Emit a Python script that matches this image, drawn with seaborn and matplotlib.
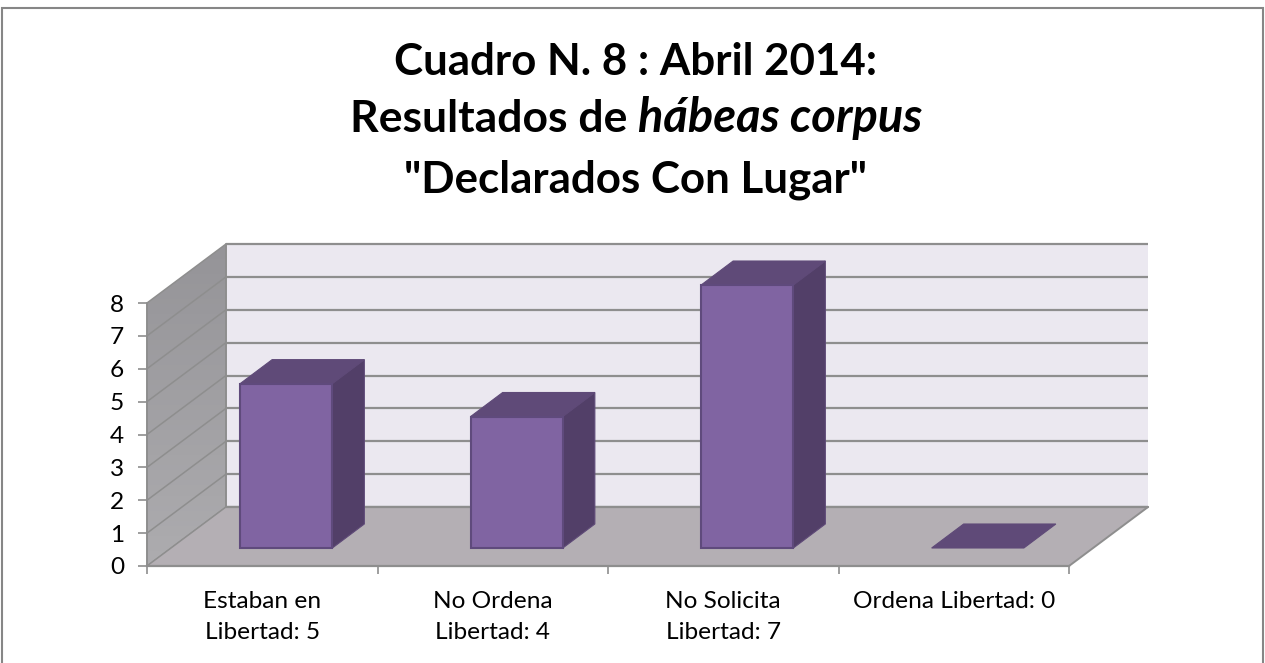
import numpy as np
import matplotlib
matplotlib.use("Agg")
import matplotlib.pyplot as plt
from matplotlib.colors import LinearSegmentedColormap
from matplotlib.patches import Rectangle
from matplotlib.transforms import Affine2D, IdentityTransform
import seaborn as sns

categories = ["Estaban en\nLibertad: 5", "No Ordena\nLibertad: 4", "No Solicita\nLibertad: 7", "Ordena Libertad: 0"]
# the third bar reaches 8 on the axis even though its label says 7
values = [5, 4, 8, 0]
y_ticks = [0, 1, 2, 3, 4, 5, 6, 7, 8]
title_lines = ["Cuadro N. 8 : Abril 2014:", '"Declarados Con Lugar"']
title_mid = ["Resultados de", "hábeas corpus"]

W, H = 1265, 663
FONT = "Lato"

sns.set_theme(style="white")
plt.rcParams["font.family"] = [FONT, "DejaVu Sans"]

fig = plt.figure(figsize=(W / 100, H / 100), dpi=100)
ax = fig.add_axes([147 / W, (H - 566) / H, 922 / W, 263 / H])

sns.barplot(x=categories, y=values, color="#8064A2", saturation=1, width=0.4, ax=ax, zorder=3)
ax.set_xlim(-0.5, 3.5)
ax.set_ylim(0, 8)
ax.set_autoscale_on(False)
bars = list(ax.patches)

# pixel offsets for the fake 3d
back = ax.transData + Affine2D().translate(79, 59)
shift = ax.transData + Affine2D().translate(24, 18)

wall_c = "#EBE8F0"
floor_c = "#B4AFB4"
grid_c = "#8E8E8E"

x0, x1 = ax.get_xlim()
back_dx = 79 / 230.5
back_dy = 59 / 32.875
ax.fill([x0, x1, x1, x0], [0, 0, 8, 8], color=wall_c, lw=0, transform=back, clip_on=False, zorder=0.5)
ax.hlines(y_ticks, x0, x1, color=grid_c, lw=1.6, transform=back, clip_on=False, zorder=0.6)

# left wall with its gradient, clipped to the slanted shape
img = ax.imshow(np.linspace(0, 1, 64).reshape(-1, 1), cmap=LinearSegmentedColormap.from_list("w", ["#959498", "#ADACAF"]),
                extent=(x0, x0 + back_dx, 0, 8 + back_dy), aspect="auto", zorder=0.55)
ax.set_xlim(x0, x1)
ax.set_ylim(0, 8)
wall_poly = plt.Polygon([(x0, 0), (x0 + back_dx, back_dy), (x0 + back_dx, 8 + back_dy), (x0, 8)],
                        fc="none", ec="none", clip_on=False)
ax.add_patch(wall_poly)
img.set_clip_box(fig.bbox)
img.set_clip_path(wall_poly)
for v in y_ticks:
    ax.plot([x0, x0 + back_dx], [v, v + back_dy], color=grid_c, lw=1.1, clip_on=False, zorder=0.6)
ax.plot([x0 + back_dx] * 2, [back_dy, 8 + back_dy], color=grid_c, lw=1.4, clip_on=False, zorder=0.62)
ax.plot([x0, x0], [0, 8], color=grid_c, lw=1.4, clip_on=False, zorder=0.62)

floor = plt.Polygon([(x0, 0), (x1, 0), (x1 + back_dx, back_dy), (x0 + back_dx, back_dy)],
                    fc=floor_c, ec="none", clip_on=False, zorder=0.7)
ax.add_patch(floor)
ax.plot([x0 + back_dx, x1 + back_dx], [back_dy] * 2, color=grid_c, lw=1.6, clip_on=False, zorder=0.72)
ax.plot([x1, x1 + back_dx], [0, back_dy], color=grid_c, lw=1.4, clip_on=False, zorder=0.72)
ax.plot([x0, x0 + back_dx], [0, back_dy], color=grid_c, lw=1.0, clip_on=False, zorder=0.72)

# bars: seaborn draws the front, top and side come from the same rectangles
dx = 32 / 230.5
dy = 24 / 32.875
for bar in bars:
    l, w, h = bar.get_x(), bar.get_width(), bar.get_height()
    bar.set_transform(shift)
    bar.set_clip_on(False)
    bar.set_edgecolor("#5F4A7C")
    bar.set_linewidth(1.5)
    top = plt.Polygon([(l, h), (l + w, h), (l + w + dx, h + dy), (l + dx, h + dy)], transform=shift,
                      fc="#5F4A78", ec="#5F4A78", lw=0.8, clip_on=False, zorder=2.9)
    ax.add_patch(top)
    if h > 0:
        side = plt.Polygon([(l + w, 0), (l + w + dx, dy), (l + w + dx, h + dy), (l + w, h)], transform=shift,
                           fc="#523F68", ec="#5F4A78", lw=0.8, clip_on=False, zorder=2.9)
        ax.add_patch(side)
    else:
        bar.set_visible(False)

for s in ["top", "left", "right"]:
    ax.spines[s].set_visible(False)
ax.spines["bottom"].set_color(grid_c)
ax.spines["bottom"].set_linewidth(1.6)
ax.spines["bottom"].set_zorder(5)

ax.set_yticks(y_ticks)
ax.set_xticks(np.arange(-0.5, 4), labels=[])
ax.set_xticks(range(4), labels=categories, minor=True)
ax.tick_params(axis="x", which="major", length=5.5, width=1.2, color=grid_c, bottom=True)
ax.tick_params(axis="x", which="minor", length=0, pad=18, labelsize=17.6, labelcolor="black")
ax.tick_params(axis="y", length=6.5, width=1.2, color=grid_c, left=True, pad=10, labelsize=17.6, labelcolor="black")
for t in ax.get_xticklabels(minor=True):
    t.set_linespacing(1.6)
ax.set_xlabel("")
ax.set_ylabel("")
ax.patch.set_visible(False)

# chart frame
fig.add_artist(Rectangle((2, -5), 1261, H - 8 + 5, transform=IdentityTransform(), fc="none", ec="#868686", lw=1.5))

# title, one line is bold + bold italic so it's placed in two pieces
TS = 31.6
fig.text(636 / W, 1 - 75 / H, title_lines[0], ha="center", va="baseline", fontsize=TS, fontweight="bold", color="black")
fig.text(635 / W, 1 - 192 / H, title_lines[1], ha="center", va="baseline", fontsize=TS, fontweight="bold", color="black")
a = fig.text(350 / W, 1 - 132 / H, title_mid[0], ha="left", va="baseline", fontsize=32, fontweight="bold", color="black")
r = fig.canvas.get_renderer()
wa = a.get_window_extent(r).width
fig.text((350 + wa + 11) / W, 1 - 132 / H, title_mid[1], ha="left", va="baseline", fontsize=33.8, fontweight="bold",
         style="italic", color="black")

fig.savefig("out.png", dpi=100)
